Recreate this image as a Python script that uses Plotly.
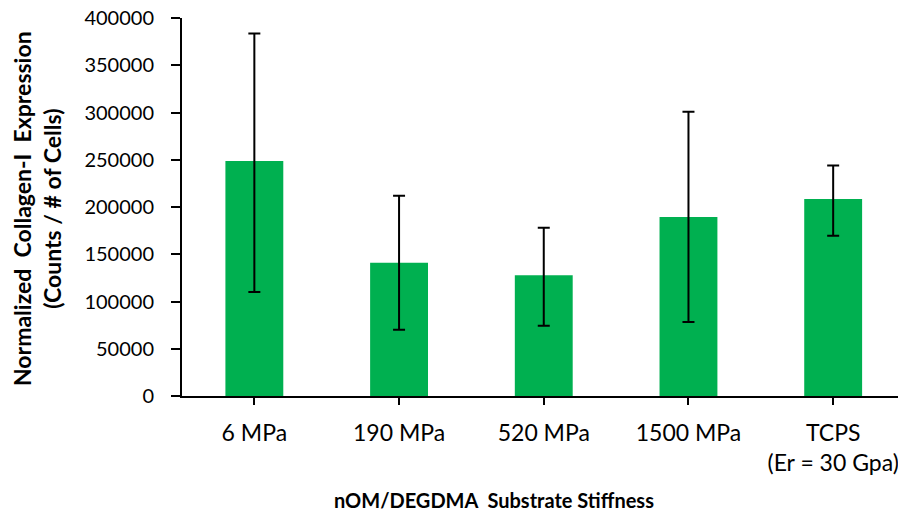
import plotly.graph_objects as go

categories = ["6 MPa", "190 MPa", "520 MPa", "1500 MPa", "TCPS<br>(Er = 30 Gpa)"]
means = [248800, 140900, 127800, 189400, 208500]
err_upper = [383700, 212000, 178000, 300900, 243900]
err_lower = [110100, 70100, 74300, 78200, 169500]
y_ticks = [0, 50000, 100000, 150000, 200000, 250000, 300000, 350000, 400000]

err_plus = [u - m for u, m in zip(err_upper, means)]
err_minus = [m - l for m, l in zip(means, err_lower)]

FONT = "Lato"

fig = go.Figure()
fig.add_trace(go.Bar(
    x=list(range(len(categories))),
    y=means,
    marker=dict(color="#00B050", line=dict(width=0)),
    error_y=dict(type="data", symmetric=False, array=err_plus, arrayminus=err_minus,
                 color="black", thickness=2, width=6),
    width=0.4,
))

fig.update_layout(
    width=898, height=518,
    margin=dict(l=182, r=0, t=18, b=122),
    plot_bgcolor="white", paper_bgcolor="white",
    showlegend=False,
    font=dict(family=FONT, size=20, color="black"),
    xaxis=dict(
        range=[-0.5, 4.448],
        tickmode="array", tickvals=list(range(len(categories))), ticktext=categories,
        showline=True, linecolor="black", linewidth=2,
        ticks="outside", ticklen=7, tickwidth=1.5, tickcolor="black",
        tickson="boundaries", showgrid=False, zeroline=False,
        ticklabelstandoff=8, ticklabeloverflow="allow",
        tickfont=dict(family=FONT, size=23),
    ),
    yaxis=dict(
        range=[0, 400000],
        tickmode="array", tickvals=y_ticks, ticktext=[str(v) for v in y_ticks],
        showline=True, linecolor="black", linewidth=2,
        ticks="outside", ticklen=9, tickwidth=1.5, tickcolor="black",
        showgrid=False, zeroline=False,
        ticklabelstandoff=13,
        tickfont=dict(family=FONT, size=20),
    ),
    annotations=[
        dict(text="<b>nOM/DEGDMA&nbsp; Substrate Stiffness</b>", xref="paper", yref="paper",
             x=(494 - 182) / 716, y=-(500 - 396) / 378, xanchor="center", yanchor="middle",
             showarrow=False, font=dict(family=FONT, size=20)),
        dict(text="<b>Normalized&nbsp; Collagen-I&nbsp; Expression<br>(Counts / # of Cells)</b>",
             xref="paper", yref="paper",
             x=-(182 - 37) / 716, y=(396 - 209) / 378, xanchor="center", yanchor="middle",
             textangle=-90, showarrow=False, font=dict(family=FONT, size=23)),
    ],
)

fig.write_html("out.html")
